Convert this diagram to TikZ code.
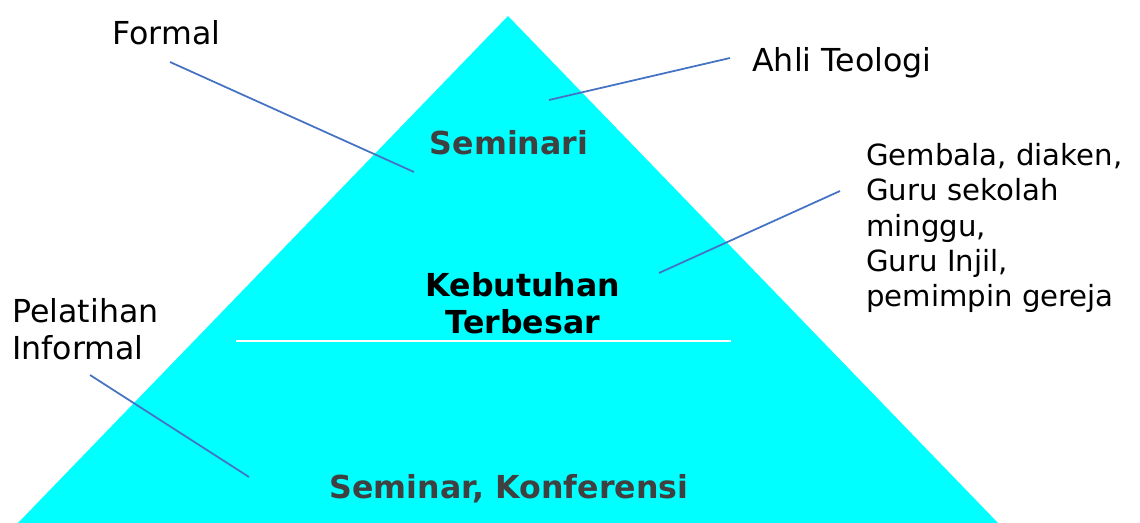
\documentclass[tikz,border=0pt]{standalone}
\usepackage{fontspec}
\setmainfont{DejaVu Sans}
\usepackage{tikz}

\definecolor{pyr}{HTML}{00FFFF}
\definecolor{callout}{HTML}{4472C4}
\definecolor{darktext}{HTML}{404040}

\begin{document}
\begin{tikzpicture}[x=0.02cm,y=-0.02cm,
    label/.style={font=\fontsize{18}{21}\selectfont,align=left,inner sep=0pt},
    small label/.style={font=\fontsize{16.6}{20}\selectfont,align=left,inner sep=0pt},
    level/.style={font=\fontsize{18}{21}\selectfont\bfseries,align=center,inner sep=0pt},
    pointer/.style={draw=callout,line width=1pt}]
    \useasboundingbox (0,0) rectangle (1140,523);
    % pyramid
    \fill[pyr] (508,16) coordinate (top) -- (998,523) coordinate (br)
      -- (18,523) coordinate (bl) -- cycle;
    \draw[white,line width=1.2pt] (236,341) coordinate (sl) -- (731,341) coordinate (sr);
    % levels
    \node[level,text=darktext] (seminari) at (509,143) {Seminari};
    \node[level,text=black] (kebutuhan) at (523,303) {Kebutuhan\\Terbesar};
    \node[level,text=darktext] (konferensi) at (509,489) {Seminar, Konferensi};
    % side labels
    \node[label,anchor=west] (formal) at (112,33) {Formal};
    \node[label,anchor=west] (teologi) at (752,63) {Ahli Teologi};
    \node[small label,anchor=west] (gembala) at (866,228)
      {Gembala, diaken,\\Guru sekolah\\minggu,\\Guru Injil,\\pemimpin gereja};
    \node[label,anchor=west] (informal) at (12,329) {Pelatihan\\Informal};
    % pointers
    \coordinate (f1) at (170,62);   \coordinate (f2) at (414,172);
    \coordinate (t1) at (730,58);   \coordinate (t2) at (549,100);
    \coordinate (g1) at (840,191);  \coordinate (g2) at (659,273);
    \coordinate (i1) at (90,375);   \coordinate (i2) at (249,477);
    \draw[pointer] (f1) -- (f2);
    \draw[pointer] (t1) -- (t2);
    \draw[pointer] (g1) -- (g2);
    \draw[pointer] (i1) -- (i2);
\end{tikzpicture}
\end{document}
